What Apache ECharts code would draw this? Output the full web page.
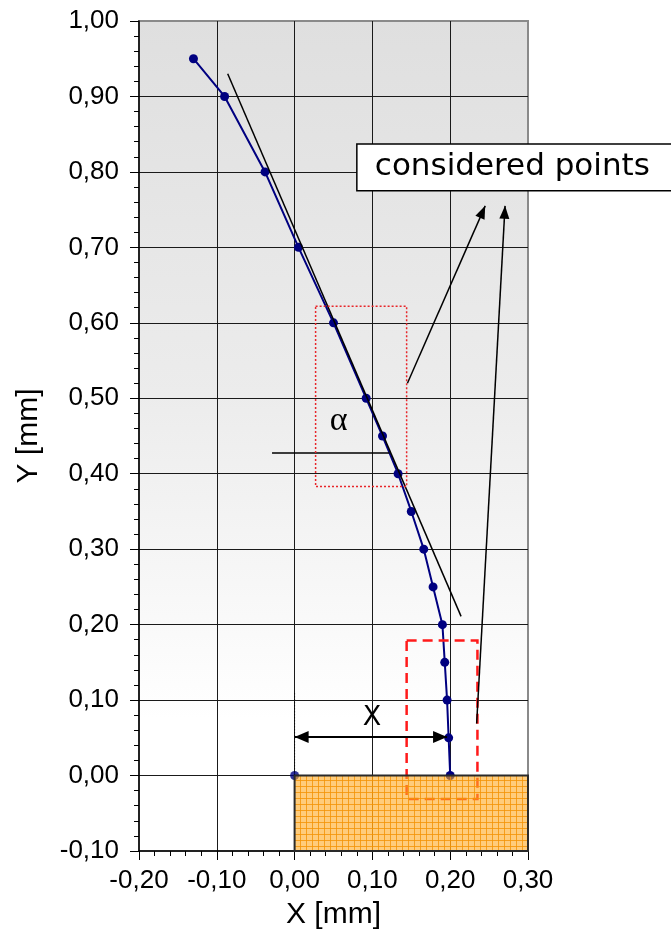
<!DOCTYPE html>
<html>
<head>
<meta charset="utf-8">
<title>Profile of the tip</title>
<script src="https://cdn.jsdelivr.net/npm/echarts@6/dist/echarts.min.js"></script>
<style>
  html, body { margin: 0; padding: 0; background: #ffffff; }
  #chart { width: 671px; height: 935px; }
</style>
</head>
<body>
<div id="chart"></div>
<script>
// Measured profile: X and Y positions in mm
const profileX = [-0.130, -0.090, -0.038, 0.005, 0.050, 0.092, 0.113, 0.133, 0.150, 0.166, 0.178, 0.190, 0.193, 0.196, 0.198, 0.200];
const profileY = [0.95, 0.90, 0.80, 0.70, 0.60, 0.50, 0.45, 0.40, 0.35, 0.30, 0.25, 0.20, 0.15, 0.10, 0.05, 0.00];
const originPoint = [0.00, 0.00];

// Axis ranges and tick steps (mm)
const xRange = [-0.20, 0.30];
const yRange = [-0.10, 1.00];
const tickStep = 0.10;

// Construction lines and annotations, in mm
const tangentLine = [[-0.086, 0.930], [0.214, 0.211]];
const angleRefLine = [[-0.029, 0.4275], [0.122, 0.4275]];
const upperBox = [0.027, 0.622, 0.144, 0.383];
const lowerBox = [0.144, 0.179, 0.235, -0.031];
const substrateBox = [0.00, 0.00, 0.30, -0.10];
const calloutArrows = [
  [0.145, 0.520, 0.245, 0.755],
  [0.234, 0.069, 0.2705, 0.755]
];
const offsetArrow = [0.000, 0.051, 0.196, 0.051];
const offsetGuide = [[0.000, 0.109], [0.000, 0.000]];
const calloutBox = [0.080, 0.837, 0.500, 0.775];
const calloutText = 'considered points';
const angleText = [0.0565, 0.470, 'α'];
const offsetText = [0.0994, 0.076, 'X'];

const chart = echarts.init(document.getElementById('chart'), null, { renderer: 'canvas' });

const fmt = v => (Math.round(v * 100) / 100).toFixed(2).replace('.', ',');

// Orange cross-hatch fill for the substrate block
function hatchPattern() {
  const c = document.createElement('canvas');
  c.width = 6; c.height = 6;
  const g = c.getContext('2d');
  g.fillStyle = 'rgba(255,170,35,0.6)';
  g.fillRect(0, 0, 6, 6);
  g.fillStyle = 'rgba(244,148,5,0.8)';
  g.fillRect(0, 0, 6, 1);
  g.fillRect(0, 0, 1, 6);
  return c;
}

function rectBetween(api, b) {
  const p1 = api.coord([b[0], b[1]]);
  const p2 = api.coord([b[2], b[3]]);
  return {
    x: Math.min(p1[0], p2[0]),
    y: Math.min(p1[1], p2[1]),
    width: Math.abs(p2[0] - p1[0]),
    height: Math.abs(p2[1] - p1[1])
  };
}

// Filled triangular arrow head whose tip sits at (tx, ty), pointing away from (fx, fy)
function arrowHead(fx, fy, tx, ty, len, wid) {
  const ang = Math.atan2(ty - fy, tx - fx);
  const bx = tx - len * Math.cos(ang), by = ty - len * Math.sin(ang);
  const nx = -Math.sin(ang) * wid / 2, ny = Math.cos(ang) * wid / 2;
  return {
    type: 'polygon',
    shape: { points: [[tx, ty], [bx + nx, by + ny], [bx - nx, by - ny]] },
    style: { fill: '#000' }
  };
}

const profileData = profileX.map((x, i) => [x, profileY[i]]);

const axisCommon = {
  type: 'value',
  interval: tickStep,
  nameLocation: 'middle',
  nameTextStyle: { fontFamily: 'Liberation Sans', fontSize: 30, color: '#000' },
  axisLine: { onZero: false, lineStyle: { color: '#000', width: 1.5 } },
  axisTick: { length: 9, lineStyle: { color: '#000' } },
  minorTick: { show: true, splitNumber: 5, length: 5, lineStyle: { color: '#000' } },
  splitLine: { show: true, showMaxLine: false, showMinLine: false, lineStyle: { color: '#1a1a1a', width: 1 } }
};

const option = {
  animation: false,
  backgroundColor: '#ffffff',
  grid: {
    left: 139, right: 143, top: 21, bottom: 84,
    show: true,
    borderColor: '#8a8a8a',
    borderWidth: 2,
    backgroundColor: new echarts.graphic.LinearGradient(0, 0, 0, 1, [
      { offset: 0, color: '#dfdfdf' },
      { offset: 0.45, color: '#ececec' },
      { offset: 0.84, color: '#ffffff' },
      { offset: 1, color: '#ffffff' }
    ])
  },
  xAxis: Object.assign({}, axisCommon, {
    min: xRange[0], max: xRange[1],
    name: 'X [mm]',
    nameGap: 49,
    axisLabel: { formatter: fmt, margin: 17, fontFamily: 'Liberation Sans', fontSize: 26, color: '#000' }
  }),
  yAxis: Object.assign({}, axisCommon, {
    min: yRange[0], max: yRange[1],
    name: 'Y [mm]',
    nameGap: 95,
    axisLabel: { formatter: fmt, margin: 20, fontFamily: 'Liberation Sans', fontSize: 26, color: '#000' }
  }),
  series: [
    {
      name: 'profile',
      type: 'line',
      data: profileData,
      z: 5,
      symbol: 'circle',
      symbolSize: 9,
      lineStyle: { color: '#000080', width: 2 },
      itemStyle: { color: '#000080' }
    },
    {
      name: 'origin',
      type: 'scatter',
      data: [originPoint],
      z: 5,
      symbolSize: 9,
      itemStyle: { color: '#000080' }
    },
    {
      name: 'tangent',
      type: 'line',
      data: tangentLine,
      z: 6,
      symbol: 'none',
      lineStyle: { color: '#000', width: 1.5 }
    },
    {
      name: 'angle reference',
      type: 'line',
      data: angleRefLine,
      z: 6,
      symbol: 'none',
      lineStyle: { color: '#000', width: 1.5 }
    },
    {
      name: 'offset guide',
      type: 'line',
      data: offsetGuide,
      z: 6,
      symbol: 'none',
      lineStyle: { color: '#000', width: 1, type: [1, 2] }
    },
    {
      name: 'selection boxes',
      type: 'custom',
      z: 7,
      data: [upperBox, lowerBox],
      renderItem: (params, api) => {
        const b = [api.value(0), api.value(1), api.value(2), api.value(3)];
        const dotted = params.dataIndex === 0;
        return {
          type: 'rect',
          shape: rectBetween(api, b),
          style: dotted
            ? { fill: null, stroke: '#e8262a', lineWidth: 1.5, lineDash: [2, 2] }
            : { fill: null, stroke: '#ff1a1a', lineWidth: 2.5, lineDash: [10, 6] }
        };
      }
    },
    {
      name: 'substrate',
      type: 'custom',
      z: 8,
      data: [substrateBox],
      renderItem: (params, api) => {
        const b = [api.value(0), api.value(1), api.value(2), api.value(3)];
        return {
          type: 'rect',
          shape: rectBetween(api, b),
          style: {
            fill: { image: hatchPattern(), repeat: 'repeat' },
            stroke: '#2a2a2a',
            lineWidth: 2
          }
        };
      }
    },
    {
      name: 'callout arrows',
      type: 'custom',
      z: 9,
      data: calloutArrows,
      renderItem: (params, api) => {
        const p1 = api.coord([api.value(0), api.value(1)]);
        const p2 = api.coord([api.value(2), api.value(3)]);
        return {
          type: 'group',
          children: [
            { type: 'line', shape: { x1: p1[0], y1: p1[1], x2: p2[0], y2: p2[1] }, style: { stroke: '#000', lineWidth: 1.5 } },
            arrowHead(p1[0], p1[1], p2[0], p2[1], 13, 10)
          ]
        };
      }
    },
    {
      name: 'offset arrow',
      type: 'custom',
      z: 9,
      data: [offsetArrow],
      renderItem: (params, api) => {
        const p1 = api.coord([api.value(0), api.value(1)]);
        const p2 = api.coord([api.value(2), api.value(3)]);
        return {
          type: 'group',
          children: [
            { type: 'line', shape: { x1: p1[0], y1: p1[1], x2: p2[0], y2: p2[1] }, style: { stroke: '#000', lineWidth: 2 } },
            arrowHead(p2[0], p2[1], p1[0], p1[1], 14, 12),
            arrowHead(p1[0], p1[1], p2[0], p2[1], 14, 12)
          ]
        };
      }
    },
    {
      name: 'symbols',
      type: 'custom',
      z: 9,
      data: [angleText, offsetText],
      renderItem: (params, api) => {
        const p = api.coord([api.value(0), api.value(1)]);
        const isAngle = params.dataIndex === 0;
        return {
          type: 'text',
          x: p[0], y: p[1],
          style: {
            text: isAngle ? angleText[2] : offsetText[2],
            fill: '#000',
            align: 'center',
            verticalAlign: 'middle',
            font: isAngle ? '34px "Liberation Serif"' : '27px "DejaVu Sans"'
          }
        };
      }
    },
    {
      name: 'callout',
      type: 'custom',
      z: 10,
      clip: false,
      data: [calloutBox],
      renderItem: (params, api) => {
        const b = [api.value(0), api.value(1), api.value(2), api.value(3)];
        const r = rectBetween(api, b);
        return {
          type: 'group',
          children: [
            { type: 'rect', shape: r, style: { fill: '#fff', stroke: '#000', lineWidth: 1.5 } },
            {
              type: 'text',
              x: r.x + 18, y: r.y + r.height / 2,
              style: { text: calloutText, fill: '#000', verticalAlign: 'middle', font: '31px "DejaVu Sans"' }
            }
          ]
        };
      }
    }
  ]
};

chart.setOption(option);
</script>
</body>
</html>
